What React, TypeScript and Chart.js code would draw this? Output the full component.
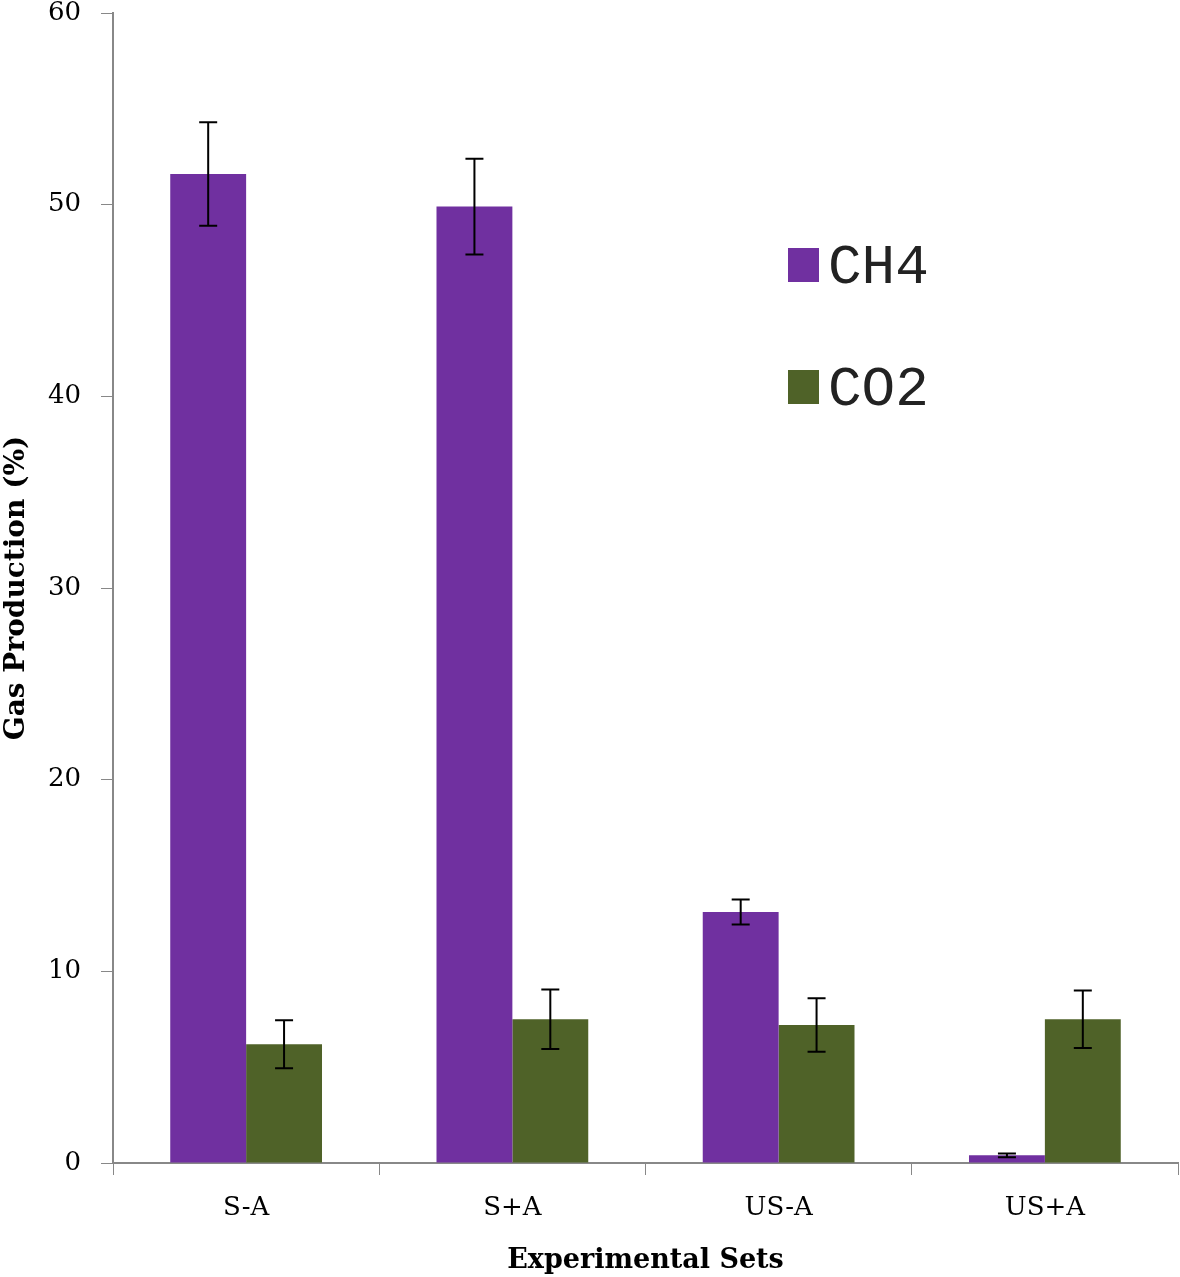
import React, { useEffect, useRef } from "react";
import { Chart, registerables } from "chart.js";

Chart.register(...registerables);

const categories = ["S-A", "S+A", "US-A", "US+A"];
const ch4Values = [51.6, 49.9, 13.1, 0.4];
const ch4Errors = [2.7, 2.5, 0.65, 0.1];
const co2Values = [6.2, 7.5, 7.2, 7.5];
const co2Errors = [1.25, 1.55, 1.4, 1.5];
const yTicks = [0, 10, 20, 30, 40, 50, 60];
const seriesNames = ["CH4", "CO2"];
const seriesColors = ["#7030A0", "#4F6228"];

const errorBarPlugin = {
  id: "errorBars",
  afterDatasetsDraw(chart: any) {
    const ctx = chart.ctx;
    const yScale = chart.scales.y;
    const errs = [ch4Errors, co2Errors];
    ctx.save();
    ctx.strokeStyle = "#000";
    ctx.lineWidth = 2;
    chart.data.datasets.forEach((ds: any, di: number) => {
      const meta = chart.getDatasetMeta(di);
      meta.data.forEach((bar: any, i: number) => {
        const v = ds.data[i];
        const e = errs[di][i];
        const x = bar.x;
        const yTop = yScale.getPixelForValue(v + e);
        const yBot = yScale.getPixelForValue(v - e);
        ctx.beginPath();
        ctx.moveTo(x, yTop);
        ctx.lineTo(x, yBot);
        ctx.moveTo(x - 9, yTop);
        ctx.lineTo(x + 9, yTop);
        ctx.moveTo(x - 9, yBot);
        ctx.lineTo(x + 9, yBot);
        ctx.stroke();
      });
    });
    ctx.restore();
  },
};

const legendPlugin = {
  id: "insideLegend",
  afterDraw(chart: any) {
    const ctx = chart.ctx;
    ctx.save();
    const ys = [266, 388];
    chart.data.datasets.forEach((ds: any, i: number) => {
      ctx.fillStyle = ds.backgroundColor;
      ctx.fillRect(788, ys[i] - 18, 31, 34);
      ctx.fillStyle = "#222";
      ctx.font = "56px 'Liberation Mono', 'DejaVu Sans Mono', monospace";
      ctx.textBaseline = "middle";
      ctx.textAlign = "left";
      ctx.fillText(ds.label, 828, ys[i] + 2);
    });
    ctx.restore();
  },
};

export default function App() {
  const ref = useRef<HTMLCanvasElement>(null);
  useEffect(() => {
    if (!ref.current) return;
    const serif = "'DejaVu Serif', 'Liberation Serif', serif";
    const chart = new Chart(ref.current, {
      type: "bar",
      data: {
        labels: categories,
        datasets: [
          {
            label: seriesNames[0],
            data: ch4Values,
            backgroundColor: seriesColors[0],
            categoryPercentage: 0.57,
            barPercentage: 1.0,
          },
          {
            label: seriesNames[1],
            data: co2Values,
            backgroundColor: seriesColors[1],
            categoryPercentage: 0.57,
            barPercentage: 1.0,
          },
        ],
      },
      options: {
        animation: false,
        responsive: false,
        maintainAspectRatio: false,
        layout: { padding: { top: 13, right: 2, left: 0, bottom: 0 } },
        plugins: {
          legend: { display: false },
          tooltip: { enabled: false },
        },
        scales: {
          x: {
            grid: {
              display: true,
              drawOnChartArea: false,
              drawTicks: true,
              tickLength: 12,
              color: "#888",
              offset: true,
            },
            border: { display: true, color: "#888", width: 2 },
            ticks: {
              color: "#000",
              font: { family: serif, size: 26 },
              padding: 18,
            },
            title: {
              display: true,
              text: "Experimental Sets",
              color: "#000",
              font: { family: serif, size: 27, weight: "bold" },
              padding: { top: 1, bottom: 0 },
            },
            afterFit(scale: any) {
              scale.height = 114;
              scale.paddingLeft = 0;
              scale.paddingRight = 0;
            },
          },
          y: {
            min: 0,
            max: 60,
            afterBuildTicks(scale: any) {
              scale.ticks = yTicks.map((v) => ({ value: v }));
            },
            grid: {
              display: true,
              drawOnChartArea: false,
              drawTicks: true,
              tickLength: 12,
              color: "#888",
            },
            border: { display: true, color: "#888", width: 2 },
            ticks: {
              color: "#000",
              font: { family: serif, size: 26 },
              padding: 20,
            },
            title: {
              display: true,
              text: "Gas Production (%)",
              color: "#000",
              font: { family: serif, size: 28, weight: "bold" },
              padding: { top: 0, bottom: 0 },
            },
            afterFit(scale: any) {
              scale.width = 113;
              scale.paddingTop = 0;
              scale.paddingBottom = 0;
            },
          },
        },
      },
      plugins: [errorBarPlugin, legendPlugin],
    });
    return () => chart.destroy();
  }, []);
  return (
    <div style={{ position: "fixed", left: 0, top: 0, width: 1180, height: 1277, background: "#fff" }}>
      <canvas ref={ref} width={1180} height={1277} style={{ width: 1180, height: 1277 }} />
    </div>
  );
}
